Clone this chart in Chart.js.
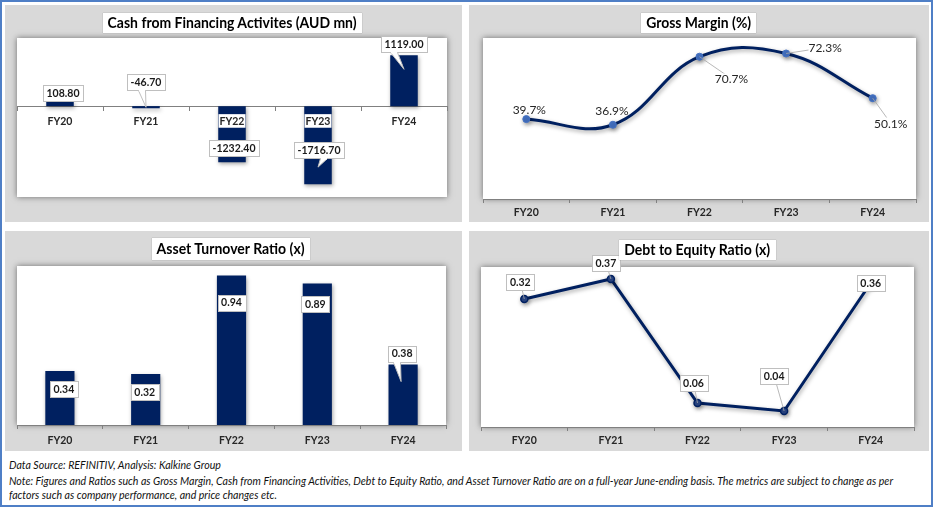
<!DOCTYPE html>
<html>
<head>
<meta charset="utf-8">
<script src="https://cdn.jsdelivr.net/npm/chart.js@4.4.1/dist/chart.umd.min.js"></script>
<style>
  body { margin: 0; width: 933px; height: 507px; background: #fff; position: relative; overflow: hidden; font-family: Lato, "Noto Sans", sans-serif; }
  #frame { position: absolute; left: 0; top: 0; width: 933px; height: 507px; box-sizing: border-box; border: 2px solid #4f7fc6; }
  canvas { position: absolute; }
  .ttl { position: absolute; background: #fff; box-shadow: 0 0 1px rgba(0,0,0,0.35); text-align: center; font-weight: bold; font-size: 14.5px; color: #000; white-space: nowrap; }
  .ttl span { display: inline-block; transform-origin: center; }
  .foot { position: absolute; left: 9px; font-style: italic; font-size: 10.5px; line-height: 12px; color: #111; white-space: nowrap; }
  .foot span { display: inline-block; transform-origin: left; }
</style>
</head>
<body>
<div id="frame"></div>

<canvas id="cash" width="457" height="217" style="left:5px;top:5px"></canvas>
<canvas id="margin" width="460" height="217" style="left:469px;top:5px"></canvas>
<canvas id="turnover" width="457" height="220" style="left:5px;top:231px"></canvas>
<canvas id="debt" width="460" height="220" style="left:469px;top:231px"></canvas>

<div class="ttl" style="left:103px;top:13px;width:259px;height:20px;line-height:20px" data-w="249"><span>Cash from Financing Activites (AUD mn)</span></div>
<div class="ttl" style="left:641px;top:13px;width:115px;height:20px;line-height:20px" data-w="105"><span>Gross Margin (%)</span></div>
<div class="ttl" style="left:152px;top:238px;width:158px;height:22px;line-height:22px" data-w="148"><span>Asset Turnover Ratio (x)</span></div>
<div class="ttl" style="left:619px;top:240px;width:157px;height:20px;line-height:20px" data-w="146"><span>Debt to Equity Ratio (x)</span></div>

<div class="foot" style="top:459px"><span>Data Source: REFINITIV, Analysis: Kalkine Group</span></div>
<div class="foot" id="noteLine" style="top:475px"><span>Note: Figures and Ratios such as Gross Margin, Cash from Financing Activities, Debt to Equity Ratio, and Asset Turnover Ratio are on a full-year June-ending basis. The metrics are subject to change as per</span></div>
<div class="foot" style="top:489px"><span>factors such as company performance, and price changes etc.</span></div>

<script>
// data
const years = ['FY20', 'FY21', 'FY22', 'FY23', 'FY24'];
const cashFinancing = [108.8, -46.7, -1232.4, -1716.7, 1119.0];
const grossMargin = [39.7, 36.9, 70.7, 72.3, 50.1];
const assetTurnover = [0.34, 0.32, 0.94, 0.89, 0.38];
const debtEquity = [0.32, 0.37, 0.06, 0.04, 0.36];

// value ranges of the hidden y axes
const cashRange = [-2000, 1500];
const marginRange = [0, 80];
const turnoverRange = [0, 1];
const debtRange = [0, 0.4];

// where each label sits relative to its mark (px), callout tips, leader lines
const cashLabelPos = [
  { dx: 3, dy: -8 },
  { dx: 0, dy: -26, tip: [0, -1], base: -8 },
  { dx: 2, dy: -14 },
  { dx: 1, dy: -34, tip: [0, -17], base: 1 },
  { dx: 0, dy: -11, tip: [0, 14], base: -14 }
];
const marginLabelPos = [
  { dx: 3, dy: -9 },
  { dx: -1, dy: -14 },
  { dx: 32, dy: 22, leader: true },
  { dx: 39, dy: -6, leader: true },
  { dx: 18, dy: 25, leader: true }
];
const turnoverLabelPos = [
  { dx: 4, dy: 18 },
  { dx: -1, dy: 18 },
  { dx: 0, dy: 27 },
  { dx: -2, dy: 21 },
  { dx: -1, dy: -11, tip: [-2, 17], base: -9 }
];
const debtLabelPos = [
  { dx: -4, dy: -17, leader: true },
  { dx: -5, dy: -16, leader: true },
  { dx: -4, dy: -20, leader: true },
  { dx: -10, dy: -35, leader: true },
  { dx: 0, dy: 0 }
];

const navy = '#002060';
Chart.defaults.font.family = 'Lato';
Chart.defaults.animation = false;

// gray panel, white plot area with a soft shadow, shadow under the marks
const panelBg = {
  id: 'panelBg',
  beforeDraw(chart) {
    const { ctx, chartArea: a } = chart;
    ctx.save();
    ctx.fillStyle = '#d9d9d9';
    ctx.fillRect(0, 0, chart.width, chart.height);
    ctx.shadowColor = 'rgba(0,0,0,0.5)';
    ctx.shadowBlur = 6;
    ctx.fillStyle = '#fff';
    ctx.fillRect(a.left, a.top, a.right - a.left, a.bottom - a.top);
    ctx.restore();
  },
  beforeDatasetsDraw(chart) {
    const ctx = chart.ctx;
    ctx.save();
    ctx.shadowColor = 'rgba(0,0,0,0.35)';
    ctx.shadowBlur = 4;
    ctx.shadowOffsetX = 1;
    ctx.shadowOffsetY = 2;
  },
  afterDatasetsDraw(chart) {
    chart.ctx.restore();
  }
};

function makeLabels(place, format, boxed, font, color) {
  return {
    id: 'valueLabels',
    afterDatasetsDraw(chart) {
      const ctx = chart.ctx;
      const meta = chart.getDatasetMeta(0);
      const vals = chart.data.datasets[0].data;
      ctx.save();
      ctx.font = font;
      ctx.textAlign = 'center';
      ctx.textBaseline = 'middle';
      meta.data.forEach((el, i) => {
        const p = place[i];
        const txt = format(vals[i]);
        const cx = el.x + p.dx, cy = el.y + p.dy;
        const w = Math.round(ctx.measureText(txt).width + (boxed ? 7 : 2));
        const h = boxed ? 16 : 12;
        const l = Math.round(cx - w / 2) + 0.5, t = Math.round(cy - h / 2) + 0.5;
        if (p.leader) {
          ctx.strokeStyle = '#a6a6a6';
          ctx.lineWidth = 0.8;
          ctx.beginPath();
          ctx.moveTo(el.x, el.y);
          ctx.lineTo(cx, cy);
          ctx.stroke();
        }
        if (boxed || p.leader) {
          ctx.fillStyle = '#fff';
          ctx.fillRect(l, t, w, h);
        }
        if (boxed) {
          ctx.strokeStyle = '#bfbfbf';
          ctx.lineWidth = 1;
          ctx.strokeRect(l, t, w, h);
        }
        if (p.tip) {
          const b0 = Math.round(cx + p.base) + 0.5, b1 = b0 + 7;
          const tx = el.x + p.tip[0], ty = el.y + p.tip[1];
          ctx.fillStyle = '#fff';
          ctx.strokeStyle = '#bfbfbf';
          ctx.beginPath();
          ctx.moveTo(b0, t + h);
          ctx.lineTo(tx, ty);
          ctx.lineTo(b1, t + h);
          ctx.fill();
          ctx.stroke();
          ctx.fillRect(b0 + 0.5, t + h - 1, b1 - b0 - 1, 2);
        }
        ctx.fillStyle = color;
        ctx.fillText(txt, cx, cy + 0.5);
      });
      ctx.restore();
    }
  };
}

function xAxis(pad, extra) {
  return Object.assign({
    offset: true,
    grid: { drawOnChartArea: false, drawTicks: true, tickLength: 4, tickColor: '#808080', offset: true },
    border: { display: true, color: '#808080', width: 1 },
    ticks: { z: 1, font: { size: 10.5, weight: 'bold' }, color: '#262626', padding: pad, maxRotation: 0 },
    afterFit(s) { s.height = 22; }
  }, extra || {});
}

const boxFont = 'bold 10.5px Lato';

new Chart(document.getElementById('cash'), {
  type: 'bar',
  data: { labels: years, datasets: [{ data: cashFinancing, backgroundColor: navy, barPercentage: 0.32, categoryPercentage: 1 }] },
  options: {
    responsive: false,
    layout: { padding: { left: 12, right: 15, top: 33, bottom: 25 } },
    plugins: { legend: { display: false }, tooltip: { enabled: false } },
    scales: {
      x: xAxis(5, {
        position: { y: 0 },
        ticks: { z: 1, font: { size: 10.5, weight: 'bold' }, color: '#262626', padding: 5, maxRotation: 0,
                 showLabelBackdrop: true, backdropColor: '#fff', backdropPadding: { top: 1, bottom: 0, left: 1, right: 1 } },
        afterFit() {}
      }),
      y: { display: false, min: cashRange[0], max: cashRange[1] }
    }
  },
  plugins: [panelBg, makeLabels(cashLabelPos, v => v.toFixed(2), true, boxFont, '#1a1a1a')]
});

new Chart(document.getElementById('margin'), {
  type: 'line',
  data: { labels: years, datasets: [{
    data: grossMargin, borderColor: navy, borderWidth: 3, tension: 0.4,
    pointRadius: 3.5, pointBackgroundColor: '#4472c4', pointBorderColor: '#4472c4', pointBorderWidth: 1
  }] },
  options: {
    responsive: false,
    layout: { padding: { left: 14, right: 13, top: 33, bottom: 1 } },
    plugins: { legend: { display: false }, tooltip: { enabled: false } },
    scales: {
      x: xAxis(3),
      y: { display: false, min: marginRange[0], max: marginRange[1] }
    }
  },
  plugins: [panelBg, makeLabels(marginLabelPos, v => v.toFixed(1) + '%', false, '12px Lato', '#262626')]
});

new Chart(document.getElementById('turnover'), {
  type: 'bar',
  data: { labels: years, datasets: [{ data: assetTurnover, backgroundColor: navy, barPercentage: 0.34, categoryPercentage: 1 }] },
  options: {
    responsive: false,
    layout: { padding: { left: 12, right: 16, top: 35, bottom: 4 } },
    plugins: { legend: { display: false }, tooltip: { enabled: false } },
    scales: {
      x: xAxis(5),
      y: { display: false, min: turnoverRange[0], max: turnoverRange[1] }
    }
  },
  plugins: [panelBg, makeLabels(turnoverLabelPos, v => v.toFixed(2), true, boxFont, '#1a1a1a')]
});

new Chart(document.getElementById('debt'), {
  type: 'line',
  data: { labels: years, datasets: [{
    data: debtEquity, borderColor: navy, borderWidth: 3, tension: 0,
    pointRadius: 3.5, pointBackgroundColor: '#2c4a8c', pointBorderColor: navy, pointBorderWidth: 1.5
  }] },
  options: {
    responsive: false,
    layout: { padding: { left: 12, right: 15, top: 36, bottom: 2 } },
    plugins: { legend: { display: false }, tooltip: { enabled: false } },
    scales: {
      x: xAxis(3),
      y: { display: false, min: debtRange[0], max: debtRange[1] }
    }
  },
  plugins: [panelBg, makeLabels(debtLabelPos, v => v.toFixed(2), true, boxFont, '#1a1a1a')]
});

// squeeze the html text to the widths seen in the picture
document.querySelectorAll('.ttl').forEach(el => {
  const s = el.querySelector('span');
  s.style.transform = 'scaleX(' + (+el.dataset.w / s.getBoundingClientRect().width) + ')';
});
const note = document.querySelector('#noteLine span');
const k = 884 / note.getBoundingClientRect().width;
document.querySelectorAll('.foot span').forEach(s => { s.style.transform = 'scaleX(' + k + ')'; });
</script>
</body>
</html>
